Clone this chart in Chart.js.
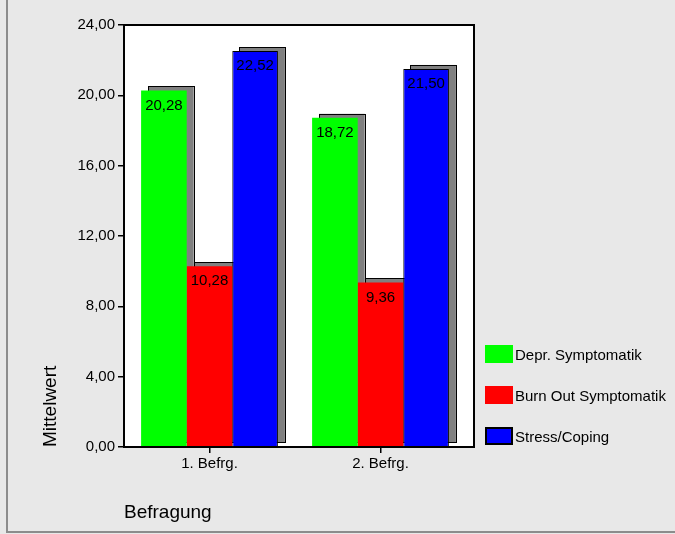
<!DOCTYPE html>
<html>
<head>
<meta charset="utf-8">
<title>Mittelwert nach Befragung</title>
<script src="https://cdn.jsdelivr.net/npm/chart.js@4/dist/chart.umd.min.js"></script>
<style>
  html, body { margin: 0; padding: 0; background: #e8e8e8; }
  canvas { display: block; }
</style>
</head>
<body>
<canvas id="chart" width="675" height="534"></canvas>
<script>
// Survey rounds and mean scores per scale
const categories = ['1. Befrg.', '2. Befrg.'];
const seriesNames = ['Depr. Symptomatik', 'Burn Out Symptomatik', 'Stress/Coping'];
const deprValues = [20.28, 18.72];
const burnoutValues = [10.28, 9.36];
const stressValues = [22.52, 21.50];
const yMin = 0, yMax = 24, yStep = 4;

const FONT = '"Liberation Sans", Arial, sans-serif';
const fmt = v => v.toFixed(2).replace('.', ',');

// Page background, outer frame, white plot panel and its frame
const panelPlugin = {
  id: 'panel',
  beforeDraw(chart) {
    const ctx = chart.ctx, a = chart.chartArea;
    ctx.save();
    ctx.fillStyle = '#e8e8e8';
    ctx.fillRect(0, 0, chart.width, chart.height);
    ctx.strokeStyle = '#8c8c8c';
    ctx.lineWidth = 2;
    ctx.beginPath();
    ctx.moveTo(7, 0);
    ctx.lineTo(7, 532);
    ctx.lineTo(chart.width, 532);
    ctx.stroke();
    ctx.fillStyle = '#ffffff';
    ctx.fillRect(a.left, a.top, a.right + 8 - a.left, a.bottom - a.top);
    ctx.restore();
  },
  afterDraw(chart) {
    const ctx = chart.ctx, a = chart.chartArea;
    ctx.save();
    ctx.strokeStyle = '#000';
    ctx.lineWidth = 2;
    ctx.beginPath();
    ctx.moveTo(a.left, a.top);
    ctx.lineTo(a.right + 8, a.top);
    ctx.lineTo(a.right + 8, a.bottom);
    ctx.lineTo(a.left, a.bottom);
    ctx.stroke();
    ctx.restore();
  }
};

// Offset grey block behind every bar
const shadowPlugin = {
  id: 'barShadow',
  beforeDatasetsDraw(chart) {
    const ctx = chart.ctx;
    const dx = 7, dy = -4;
    ctx.save();
    chart.data.datasets.forEach((ds, i) => {
      chart.getDatasetMeta(i).data.forEach(bar => {
        const p = bar.getProps(['x', 'y', 'base', 'width'], true);
        const x = p.x - p.width / 2 + dx, y = p.y + dy;
        const h = p.base - p.y;
        ctx.fillStyle = '#808080';
        ctx.fillRect(x, y, p.width, h);
        ctx.strokeStyle = '#000';
        ctx.lineWidth = 1;
        ctx.strokeRect(Math.round(x) + 0.5, Math.round(y) + 0.5, Math.round(p.width), Math.round(h));
      });
    });
    ctx.restore();
  }
};

// Value printed just inside the top of each bar
const valueLabelPlugin = {
  id: 'valueLabels',
  afterDatasetsDraw(chart) {
    const ctx = chart.ctx;
    ctx.save();
    ctx.font = '15px ' + FONT;
    ctx.fillStyle = '#000';
    ctx.textAlign = 'center';
    ctx.textBaseline = 'middle';
    chart.data.datasets.forEach((ds, i) => {
      chart.getDatasetMeta(i).data.forEach((bar, j) => {
        const p = bar.getProps(['x', 'y'], true);
        ctx.fillText(fmt(ds.data[j]), p.x, p.y + 15);
      });
    });
    ctx.restore();
  }
};

// Legend block on the right
const legendPlugin = {
  id: 'sideLegend',
  afterDraw(chart) {
    const ctx = chart.ctx;
    const x0 = 485, y0 = 345, boxW = 28, boxH = 18, gap = 41;
    ctx.save();
    ctx.font = '15px ' + FONT;
    ctx.textAlign = 'left';
    ctx.textBaseline = 'middle';
    chart.data.datasets.forEach((ds, i) => {
      const y = y0 + i * gap;
      ctx.fillStyle = ds.backgroundColor;
      ctx.fillRect(x0, y, boxW, boxH);
      if (ds.borderWidth) {
        ctx.strokeStyle = ds.borderColor;
        ctx.lineWidth = 2;
        ctx.strokeRect(x0 + 1, y + 1, boxW - 2, boxH - 2);
      }
      ctx.fillStyle = '#000';
      ctx.fillText(ds.label, x0 + boxW + 2, y + boxH / 2 + 2);
    });
    ctx.restore();
  }
};

new Chart(document.getElementById('chart'), {
  type: 'bar',
  data: {
    labels: categories,
    datasets: [
      { label: seriesNames[0], data: deprValues, backgroundColor: '#00ff00', borderWidth: 0 },
      { label: seriesNames[1], data: burnoutValues, backgroundColor: '#ff0000', borderWidth: 0 },
      { label: seriesNames[2], data: stressValues, backgroundColor: '#0000ff', borderColor: '#000000', borderWidth: 1 }
    ]
  },
  options: {
    responsive: false,
    animation: false,
    events: [],
    layout: { padding: { left: 39, top: 25, right: 209, bottom: 10 } },
    datasets: { bar: { categoryPercentage: 0.8, barPercentage: 1.0 } },
    plugins: {
      legend: { display: false },
      tooltip: { enabled: false }
    },
    scales: {
      x: {
        offset: true,
        afterFit(scale) { scale.height = 77; },
        grid: { display: true, offset: false, drawOnChartArea: false, drawTicks: true, tickLength: 6, color: '#000', lineWidth: 1.5 },
        border: { display: true, color: '#000', width: 2 },
        ticks: { color: '#000', padding: 2, font: { family: FONT, size: 15 } },
        title: {
          display: true, text: 'Befragung', align: 'start', color: '#000',
          padding: 0, font: { family: FONT, size: 19 }
        }
      },
      y: {
        min: yMin, max: yMax,
        afterFit(scale) { scale.width = 85; },
        grid: { display: true, drawOnChartArea: false, drawTicks: true, tickLength: 6, color: '#000', lineWidth: 1.5 },
        border: { display: true, color: '#000', width: 2 },
        ticks: {
          stepSize: yStep, color: '#000', padding: 3,
          font: { family: FONT, size: 15 },
          callback: v => fmt(v)
        },
        title: {
          display: true, text: 'Mittelwert', align: 'start', color: '#000',
          padding: 0, font: { family: FONT, size: 19 }
        }
      }
    }
  },
  plugins: [panelPlugin, shadowPlugin, valueLabelPlugin, legendPlugin]
});
</script>
</body>
</html>
